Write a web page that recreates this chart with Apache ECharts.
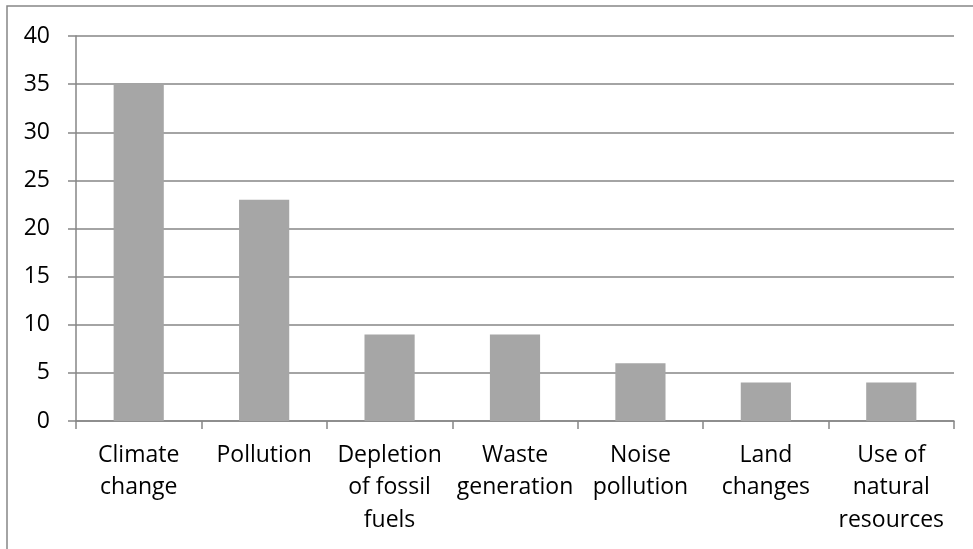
<!DOCTYPE html>
<html><head><meta charset="utf-8">
<script src="https://cdn.jsdelivr.net/npm/echarts@6/dist/echarts.min.js"></script>
<style>html,body{margin:0;padding:0;background:#fff;}#c{width:973px;height:549px;}</style>
</head><body><div id="c"></div>
<script>
const categories = ["Climate\nchange","Pollution","Depletion\nof fossil\nfuels","Waste\ngeneration","Noise\npollution","Land\nchanges","Use of\nnatural\nresources"];
const values = [35, 23, 9, 9, 6, 4, 4];
const yTicks = {min: 0, max: 40, interval: 5};

const chart = echarts.init(document.getElementById('c'), null, {renderer: 'canvas'});
const font = '"Open Sans", "Liberation Sans", sans-serif';
chart.setOption({
  animation: false,
  backgroundColor: '#fff',
  graphic: [{type: 'rect', shape: {x: 7, y: 6, width: 1000, height: 600}, style: {fill: 'none', stroke: '#868686', lineWidth: 1.5}, silent: true}],
  grid: {left: 76, right: 19, top: 36, bottom: 128, containLabel: false},
  xAxis: {
    type: 'category', data: categories,
    axisLine: {show: true, lineStyle: {color: '#868686', width: 1.5}},
    axisTick: {show: true, length: 8, alignWithLabel: false, lineStyle: {color: '#868686', width: 1.5}},
    axisLabel: {color: '#000', fontSize: 23, fontFamily: font, lineHeight: 32.5, margin: 18, interval: 0},
    splitLine: {show: false}
  },
  yAxis: {
    type: 'value', min: yTicks.min, max: yTicks.max, interval: yTicks.interval,
    axisLine: {show: true, lineStyle: {color: '#868686', width: 1.5}},
    axisTick: {show: true, length: 8, lineStyle: {color: '#868686', width: 1.5}},
    axisLabel: {color: '#000', fontSize: 23, fontFamily: font, margin: 26},
    splitLine: {show: true, lineStyle: {color: '#868686', width: 1.5}}
  },
  series: [{type: 'bar', data: values, barWidth: '40%', itemStyle: {color: '#a6a6a6'}}]
});
</script></body></html>
